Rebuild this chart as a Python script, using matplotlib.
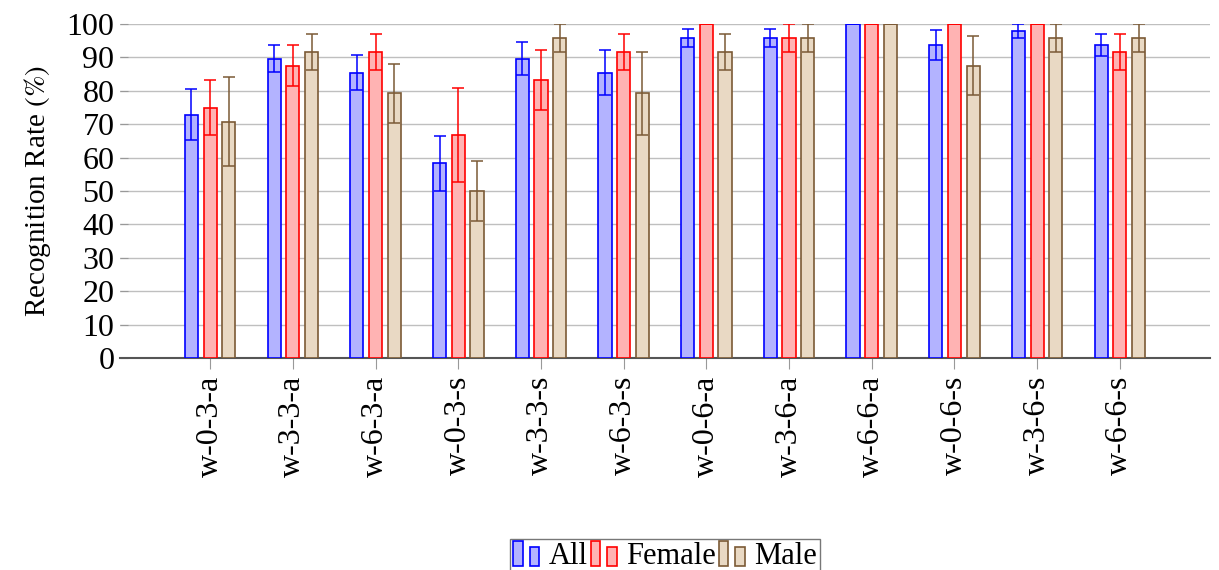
import numpy as np
import matplotlib
matplotlib.use("Agg")
import matplotlib.pyplot as plt
from matplotlib.patches import Rectangle
from matplotlib.legend_handler import HandlerBase

plt.rcParams['font.family'] = ['Liberation Serif', 'DejaVu Serif']
plt.rcParams['mathtext.fontset'] = 'stix'

categories = ['w-0-3-a', 'w-3-3-a', 'w-6-3-a', 'w-0-3-s', 'w-3-3-s', 'w-6-3-s',
              'w-0-6-a', 'w-3-6-a', 'w-6-6-a', 'w-0-6-s', 'w-3-6-s', 'w-6-6-s']

all_vals = [72.9, 89.6, 85.4, 58.3, 89.6, 85.4, 95.8, 95.8, 100, 93.8, 97.9, 93.8]
all_err = [7.6, 4.0, 5.2, 8.3, 5.0, 6.8, 2.8, 2.8, 0, 4.5, 2.1, 3.3]

female_vals = [75.0, 87.5, 91.7, 66.7, 83.3, 91.7, 100, 95.8, 100, 100, 100, 91.7]
female_err = [8.3, 6.1, 5.4, 14.1, 8.9, 5.4, 0, 4.2, 0, 0, 0, 5.4]

male_vals = [70.8, 91.7, 79.2, 50.0, 95.8, 79.2, 91.7, 95.8, 100, 87.5, 95.8, 95.8]
male_err = [13.2, 5.4, 8.8, 8.9, 4.2, 12.5, 5.4, 4.2, 0, 8.8, 4.2, 4.2]

series = [
    ('All', all_vals, all_err, '#b3b3ff', '#0000ff', '#0000ff'),
    ('Female', female_vals, female_err, '#ffb3b3', '#ff0000', '#ff0000'),
    ('Male', male_vals, male_err, '#e9d9c4', '#7b5a36', '#7b5a36'),
]


class TwoBarHandler(HandlerBase):
    def create_artists(self, legend, orig_handle, xdescent, ydescent,
                       width, height, fontsize, trans):
        fc = orig_handle.get_facecolor()
        ec = orig_handle.get_edgecolor()
        w = width * 0.3
        r1 = Rectangle((-xdescent, -ydescent - 0.1 * height), w, height * 1.2,
                       facecolor=fc, edgecolor=ec, lw=1.2, transform=trans)
        r2 = Rectangle((-xdescent + width * 0.55, -ydescent - 0.1 * height), w, height * 0.9,
                       facecolor=fc, edgecolor=ec, lw=1.2, transform=trans)
        return [r1, r2]


fig = plt.figure(figsize=(12.19, 5.7), dpi=100)
ax = fig.add_axes([120 / 1219, 1 - 358 / 570, 1090 / 1219, 334 / 570])

x = np.arange(len(categories))
width = 0.16
offsets = [-0.226, 0, 0.226]
handles = []
for (name, vals, errs, fc, ec, errc), off in zip(series, offsets):
    bars = ax.bar(x + off, vals, width, color=fc, edgecolor=ec, linewidth=1.2,
                  label=name, zorder=3)
    ax.errorbar(x + off, vals, yerr=errs, fmt='none', ecolor=errc, elinewidth=1.1,
                capsize=4.5, capthick=1.1, zorder=4)
    handles.append(bars[0])

ax.set_xlim(-1.09, len(categories) - 1 + 1.09)
ax.set_ylim(0, 100)
ax.set_yticks(np.arange(0, 101, 10))
ax.set_xticks(x)
ax.set_xticklabels(categories, rotation=90, fontsize=23)
ax.tick_params(axis='y', labelsize=23, direction='in', length=6, color='#999999', pad=4)
ax.tick_params(axis='x', direction='out', length=8, color='#999999', pad=5)
ax.yaxis.grid(True, color='#bfbfbf', lw=1.0, zorder=0)
ax.set_axisbelow(True)
for s in ['top', 'right', 'left']:
    ax.spines[s].set_visible(False)
ax.spines['bottom'].set_color('#555555')
ax.spines['bottom'].set_linewidth(1.5)

ax.set_ylabel(r'Recognition Rate $\mathit{(\%)}$', fontsize=21, labelpad=10)

fig.legend(handles, [s[0] for s in series], handler_map={h: TwoBarHandler() for h in handles},
           loc='upper center', bbox_to_anchor=(665 / 1219, 1 - 524 / 570), ncol=3,
           fontsize=22, frameon=True, fancybox=False, edgecolor='#555555',
           handlelength=1.0, handletextpad=0.15, columnspacing=0.1, borderpad=0.1)

fig.savefig('out.png', dpi=100)
